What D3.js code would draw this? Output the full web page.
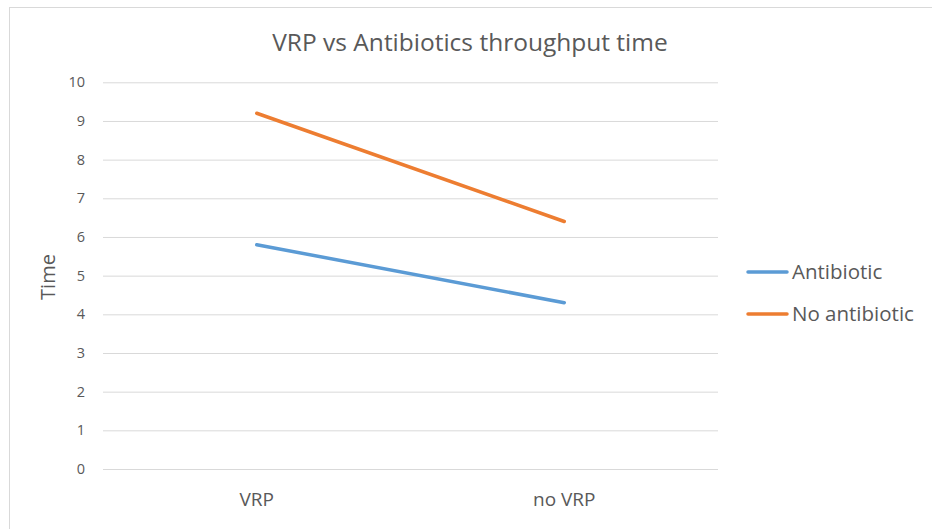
<!DOCTYPE html>
<html>
<head>
<meta charset="utf-8">
<script src="https://cdn.jsdelivr.net/npm/d3@7"></script>
<style>
    body { margin: 0; background: #fff; }
    text { font-family: "Open Sans", "Noto Sans", sans-serif; fill: #595959; }
</style>
</head>
<body>
<div id="graphdiv"></div>
<script>
var categories = ["VRP", "no VRP"];
var seriesNames = ["Antibiotic", "No antibiotic"];
var antibiotic = [5.8, 4.3];
var noAntibiotic = [9.2, 6.4];
var yTicks = [0, 1, 2, 3, 4, 5, 6, 7, 8, 9, 10];
var colors = ["#5b9bd5", "#ed7d31"];

var W = 932, H = 529;
var svg = d3.select("#graphdiv").append("svg").attr("width", W).attr("height", H);

// chart frame (runs off the right and bottom edges)
svg.append("rect").attr("x", 9.5).attr("y", 7.5).attr("width", 940).attr("height", 540)
    .attr("fill", "none").attr("stroke", "#d9d9d9").attr("stroke-width", 1);

var x = d3.scaleBand().domain(categories).range([103, 718]).padding(0);
var y = d3.scaleLinear().domain([0, 10]).range([469, 82.3]);

// gridlines + tick labels
var yAxis = d3.axisLeft(y).tickValues(yTicks).tickSize(-(718 - 103)).tickPadding(18);
var gy = svg.append("g").attr("transform", "translate(103,0)").call(yAxis);
gy.select(".domain").remove();
gy.selectAll("line").attr("stroke", "#d9d9d9").attr("stroke-width", 1);
gy.selectAll("text").style("font-size", "14.5px").attr("fill", "#595959");

// category labels
var xAxis = d3.axisBottom(x).tickSize(0).tickPadding(24);
var gx = svg.append("g").attr("transform", "translate(0,469)").call(xAxis);
gx.select(".domain").remove();
gx.selectAll("text").style("font-size", "19px").attr("fill", "#595959");

// series
var series = [antibiotic, noAntibiotic];
var line = d3.line()
    .x(function(d, i) { return x(categories[i]) + x.bandwidth() / 2; })
    .y(function(d) { return y(d); });
svg.selectAll("path.series").data(series).enter().append("path")
    .attr("class", "series")
    .attr("d", line)
    .attr("fill", "none")
    .attr("stroke", function(d, i) { return colors[i]; })
    .attr("stroke-width", 3.5)
    .attr("stroke-linecap", "round");

// title
svg.append("text").attr("x", 470).attr("y", 51).attr("text-anchor", "middle")
    .style("font-size", "24.5px").text("VRP vs Antibiotics throughput time");

// y axis title
svg.append("text").attr("transform", "translate(55,277) rotate(-90)").attr("text-anchor", "middle")
    .style("font-size", "20px").text("Time");

// legend
var legendY = [272, 314];
var lg = svg.selectAll("g.legend").data(seriesNames).enter().append("g")
    .attr("class", "legend")
    .attr("transform", function(d, i) { return "translate(748," + legendY[i] + ")"; });
lg.append("line").attr("x1", 0).attr("x2", 39).attr("y1", 0).attr("y2", 0)
    .attr("stroke", function(d, i) { return colors[i]; })
    .attr("stroke-width", 3.5).attr("stroke-linecap", "round");
lg.append("text").attr("x", 44).attr("y", 7).style("font-size", "20.5px").text(function(d) { return d; });
</script>
</body>
</html>
